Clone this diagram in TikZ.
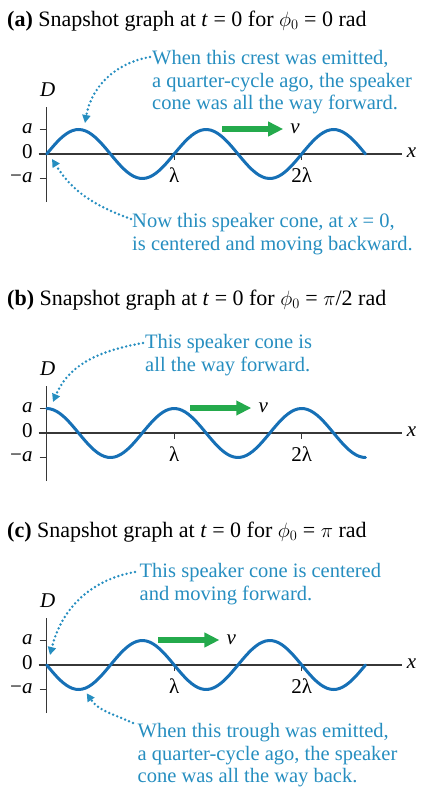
\documentclass[tikz,border=0pt]{standalone}
\usepackage{fontspec}
\setmainfont{Liberation Serif}
\usetikzlibrary{arrows.meta}
\definecolor{wavblue}{RGB}{22,112,182}
\definecolor{notecyan}{RGB}{38,142,192}
\definecolor{velgreen}{RGB}{36,170,76}
\definecolor{axgray}{RGB}{55,55,55}
\tikzset{
  wave/.style={line width=3pt, draw=wavblue, line cap=round},
  axis/.style={line width=1.2pt, draw=axgray},
  lbl/.style={inner sep=0pt, font=\fontsize{21}{22}\selectfont},
  heading/.style={inner sep=0pt, anchor=base west, font=\fontsize{22}{24}\selectfont},
  note/.style={inner sep=0pt, anchor=north west, align=left, text=notecyan, font=\fontsize{20.5}{22.5}\selectfont},
  dotarr/.style={draw=notecyan, line width=2.7pt, line cap=round, dash pattern=on 0pt off 4.3pt, -{Triangle[length=8pt,width=8pt]}},
  vel/.style={draw=velgreen, line width=6.5pt, -{Triangle[length=15pt,width=14pt]}},
}
\begin{document}
\begin{tikzpicture}[x=1pt,y=1pt]
  \useasboundingbox (0,0) rectangle (424,-787);
  % headings
  \node[heading] (ha) at (7,-26) {\textbf{(a)} Snapshot graph at \textit{t} = 0 for $\phi_0$ = 0 rad};
  \node[heading] (hb) at (7,-305) {\textbf{(b)} Snapshot graph at \textit{t} = 0 for $\phi_0$ = $\pi$/2 rad};
  \node[heading] (hc) at (7,-537) {\textbf{(c)} Snapshot graph at \textit{t} = 0 for $\phi_0$ = $\pi$ rad};
  % axes, waves and velocity arrows
  \foreach \p/\yy/\ph in {a/-154/0, b/-433/90, c/-665/180}{
    \begin{scope}[shift={(46.7,\yy)}]
      \draw[axis] (0,-48) -- (0,47);
      \draw[axis] (-8,0) -- (355,0);
      \foreach \t in {24.5,-24.5} \draw[axis] (-7,\t) -- (0,\t);
      \foreach \k in {1,2} \draw[axis] (\k*127.5,0) -- (\k*127.5,-6);
      \node[lbl, anchor=base east] (amp\p) at (-14,20.5) {\textit{a}};
      \node[lbl, anchor=base east] (zero\p) at (-14,-4) {0};
      \node[lbl, anchor=base east] (neg\p) at (-14,-28.5) {−\textit{a}};
      \node[lbl, anchor=base] (D\p) at (1,57.5) {\textit{D}};
      \node[lbl, anchor=base] (lam\p) at (127.5,-28.5) {λ};
      \node[lbl, anchor=base] (lamtwo\p) at (255,-28.5) {2λ};
      \node[lbl, anchor=base west] (x\p) at (360,-3.5) {\textit{x}};
      \draw[wave] plot[domain=0:318.75, samples=100, smooth] (\x,{24.5*sin(\x/127.5*360+\ph)});
      \draw[vel] (175.5-\ph/90*31.875,25) -- ++(61,0);
      \node[lbl, anchor=base west] (v\p) at (243.5-\ph/90*31.875,20.5) {\textit{v}};
    \end{scope}
  }
  % points the notes refer to
  \coordinate (crestA) at (85,-123);
  \coordinate (zeroA) at (52,-159);
  \coordinate (crestB) at (53,-402);
  \coordinate (zeroC) at (50,-655);
  \coordinate (troughC) at (86.7,-693.3);
  % notes
  \node[note] (noteA) at (152,-50.5) {When this crest was emitted,\\a quarter-cycle ago, the speaker\\cone was all the way forward.};
  \node[note] (noteAlow) at (132,-213.5) {Now this speaker cone, at \textit{x} = 0,\\is centered and moving backward.};
  \node[note] (noteB) at (145,-334.5) {This speaker cone is\\all the way forward.};
  \node[note] (noteC) at (139.5,-563.5) {This speaker cone is centered\\and moving forward.};
  \node[note] (noteClow) at (137.5,-723.5) {When this trough was emitted,\\a quarter-cycle ago, the speaker\\cone was all the way back.};
  \draw[dotarr] ([shift={(-2,-6.5)}]noteA.north west) to[out=190,in=80] (crestA);
  \draw[dotarr] ([shift={(-1,-5.5)}]noteAlow.north west) to[out=160,in=-58] (zeroA);
  \draw[dotarr] ([shift={(-2,-8.5)}]noteB.north west) to[out=190,in=67] (crestB);
  \draw[dotarr] ([shift={(-4.5,-8.5)}]noteC.north west) to[out=190,in=76] (zeroC);
  \draw[dotarr] ([shift={(-4.5,0.5)}]noteClow.north west) to[out=155,in=-56] (troughC);
\end{tikzpicture}
\end{document}
